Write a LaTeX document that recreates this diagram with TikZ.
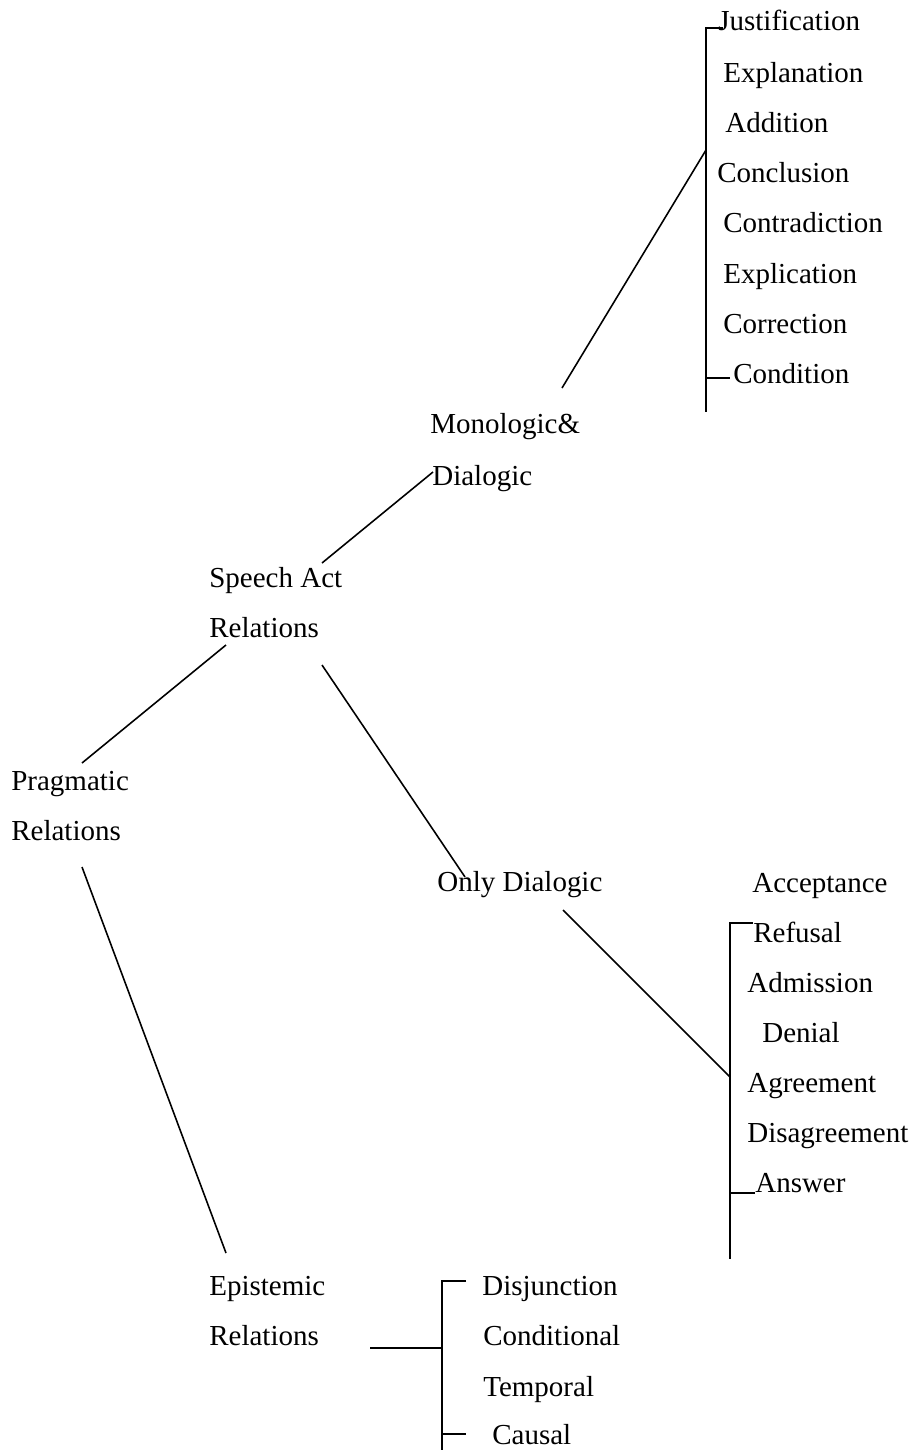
\documentclass[tikz,border=0pt]{standalone}
\usepackage{fontspec}
\setmainfont{Liberation Serif}
\usetikzlibrary{positioning}

\begin{document}
\begin{tikzpicture}[x=0.02cm, y=-0.02cm,
    every node/.style={font=\fontsize{16.5}{20}\selectfont, inner sep=0pt, anchor=base west},
    rel/.style={line width=0.9pt}]
  \useasboundingbox (0,0) rectangle (911,1450);
  % main categories
  \node (prag) at (11,790) {Pragmatic};
  \node (pragrel) at (11,840) {Relations};
  \node (speech) at (209,587) {Speech Act};
  \node (speechrel) at (209,637) {Relations};
  \node (mono) at (430,433) {Monologic\&};
  \node (monodia) at (432,485) {Dialogic};
  \node (only) at (437,891) {Only Dialogic};
  \node (epis) at (209,1295) {Epistemic};
  \node (episrel) at (209,1345) {Relations};
  % monologic and dialogic
  \node (just) at (718,31) {Justification};
  \node (expla) at (723,82) {Explanation};
  \node (addi) at (725,132) {Addition};
  \node (concl) at (717,182) {Conclusion};
  \node (contra) at (723,232) {Contradiction};
  \node (expli) at (723,283) {Explication};
  \node (corr) at (723,333) {Correction};
  \node (cond) at (733,383) {Condition};
  % only dialogic
  \node (accept) at (752,892) {Acceptance};
  \node (refus) at (753,942) {Refusal};
  \node (admis) at (747,992) {Admission};
  \node (denial) at (762,1042) {Denial};
  \node (agree) at (747,1092) {Agreement};
  \node (disag) at (747,1142) {Disagreement};
  \node (answer) at (755,1192) {Answer};
  % epistemic
  \node (disj) at (482,1295) {Disjunction};
  \node (condl) at (483,1345) {Conditional};
  \node (temp) at (483,1396) {Temporal};
  \node (caus) at (492,1444) {Causal};
  % bracket ends
  \coordinate (mdtop) at (706,28);
  \coordinate (mdbot) at (706,412);
  \coordinate (mdmid) at (706,150);
  \coordinate (mdlow) at (706,378);
  \coordinate (odtop) at (730,923);
  \coordinate (odbot) at (730,1259);
  \coordinate (odmid) at (730,1077);
  \coordinate (odlow) at (730,1193);
  \coordinate (eptop) at (442,1281);
  \coordinate (epbot) at (442,1450);
  \coordinate (epmid) at (442,1348);
  \coordinate (eplow) at (442,1434);
  % connectors
  \draw[rel] (82,763) -- (226,645);
  \draw[rel] (322,563) -- (433,472);
  \draw[rel] (322,665) -- (465,877);
  \draw[rel] (82,867) -- (226,1253);
  \draw[rel] (562,388) -- (mdmid);
  \draw[rel] (563,910) -- (odmid);
  \draw[rel] (370,1348) -- (epmid);
  % brackets
  \draw[rel] (723,28) -- (mdtop) -- (mdbot);
  \draw[rel] (mdlow) -- (730,378);
  \draw[rel] (753,923) -- (odtop) -- (odbot);
  \draw[rel] (odlow) -- (755,1193);
  \draw[rel] (466,1281) -- (eptop) -- (epbot);
  \draw[rel] (eplow) -- (466,1434);
\end{tikzpicture}
\end{document}
